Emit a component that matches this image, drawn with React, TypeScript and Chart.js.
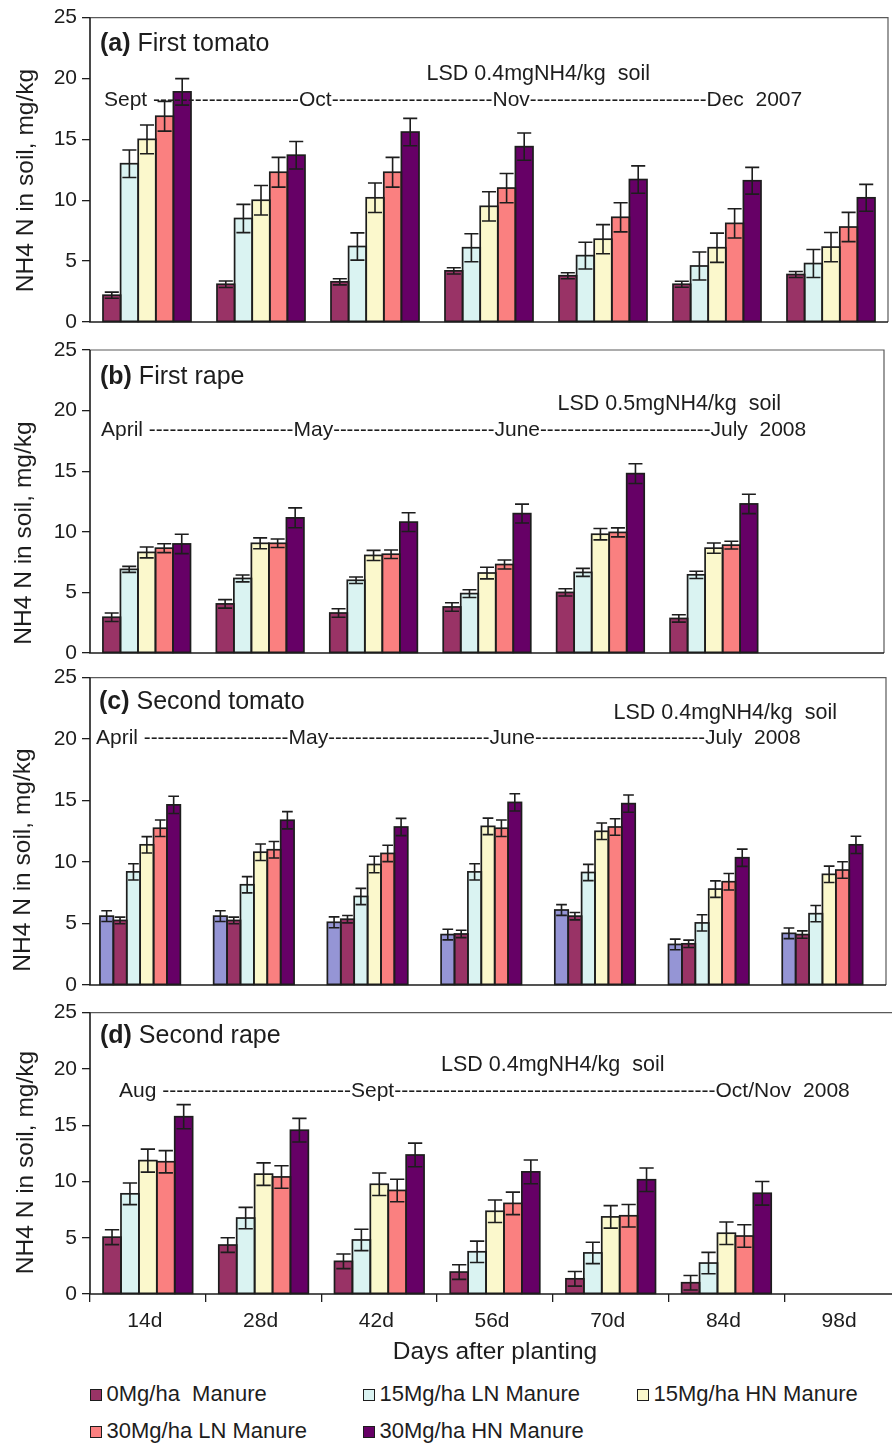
import React, { useEffect, useRef } from "react";
import { Chart, registerables } from "chart.js";

Chart.register(...registerables);

const FONT = "'Liberation Sans', Arial, Helvetica, sans-serif";
const INK = "#1d1d1d";
const FRAME = "#5a5a5a";

// ---------- categories, axis texts ----------
const dayLabels = ["14d", "28d", "42d", "56d", "70d", "84d", "98d"];
const xAxisTitle = "Days after planting";
const yAxisTitle = "NH4 N in soil, mg/kg";
const yMin = 0;
const yMax = 25;
const yStep = 5;

// ---------- series ----------
const seriesNames = [
  "0Mg/ha  Manure",
  "15Mg/ha LN Manure",
  "15Mg/ha HN Manure",
  "30Mg/ha LN Manure",
  "30Mg/ha HN Manure",
];
const seriesColors = ["#993366", "#DAF3F2", "#FBF8CC", "#FA8080", "#660066"];
const controlName = "Control";
const controlColor = "#9595D5";

// ---------- (a) First tomato ----------
const aM0 = [2.2, 3.1, 3.3, 4.2, 3.8, 3.1, 3.9];
const aLN15 = [13.0, 8.5, 6.2, 6.1, 5.45, 4.6, 4.8];
const aHN15 = [15.0, 10.0, 10.2, 9.5, 6.8, 6.1, 6.15];
const aLN30 = [16.9, 12.3, 12.3, 11.0, 8.6, 8.1, 7.8];
const aHN30 = [18.9, 13.7, 15.6, 14.4, 11.7, 11.6, 10.2];
const aM0Err = [0.25, 0.27, 0.25, 0.26, 0.25, 0.25, 0.25];
const aLN15Err = [1.13, 1.16, 1.12, 1.15, 1.1, 1.15, 1.15];
const aHN15Err = [1.18, 1.21, 1.21, 1.2, 1.2, 1.2, 1.2];
const aLN30Err = [1.22, 1.22, 1.22, 1.2, 1.2, 1.2, 1.2];
const aHN30Err = [1.09, 1.13, 1.12, 1.12, 1.12, 1.1, 1.1];
const aMonths = ["Sept ", "Oct", "Nov", "Dec  2007"];
const aLsd = "LSD 0.4mgNH4/kg  soil";

// ---------- (b) First rape ----------
const bM0 = [2.95, 4.05, 3.3, 3.8, 5.0, 2.85, null];
const bLN15 = [6.9, 6.15, 6.0, 4.9, 6.65, 6.45, null];
const bHN15 = [8.3, 9.05, 8.05, 6.6, 9.8, 8.65, null];
const bLN30 = [8.65, 9.05, 8.15, 7.3, 9.95, 8.9, null];
const bHN30 = [9.0, 11.15, 10.8, 11.5, 14.8, 12.3, null];
const bM0Err = [0.35, 0.35, 0.35, 0.35, 0.3, 0.3, null];
const bLN15Err = [0.25, 0.28, 0.27, 0.32, 0.33, 0.3, null];
const bHN15Err = [0.45, 0.45, 0.42, 0.48, 0.47, 0.42, null];
const bLN30Err = [0.37, 0.35, 0.35, 0.37, 0.37, 0.32, null];
const bHN30Err = [0.8, 0.82, 0.77, 0.78, 0.81, 0.8, null];
const bMonths = ["April ", "May", "June", "July  2008"];
const bLsd = "LSD 0.5mgNH4/kg  soil";

// ---------- (c) Second tomato ----------
const cCtrl = [5.6, 5.6, 5.1, 4.1, 6.1, 3.3, 4.2];
const cM0 = [5.25, 5.25, 5.35, 4.15, 5.6, 3.35, 4.1];
const cLN15 = [9.2, 8.15, 7.2, 9.2, 9.15, 5.05, 5.8];
const cHN15 = [11.4, 10.8, 9.8, 12.9, 12.5, 7.8, 9.0];
const cLN30 = [12.75, 11.0, 10.7, 12.75, 12.85, 8.4, 9.35];
const cHN30 = [14.65, 13.4, 12.85, 14.85, 14.75, 10.35, 11.4];
const cCtrlErr = [0.44, 0.44, 0.44, 0.43, 0.44, 0.43, 0.43];
const cM0Err = [0.27, 0.27, 0.3, 0.3, 0.3, 0.3, 0.3];
const cLN15Err = [0.66, 0.66, 0.66, 0.66, 0.66, 0.66, 0.66];
const cHN15Err = [0.67, 0.67, 0.67, 0.67, 0.67, 0.67, 0.67];
const cLN30Err = [0.67, 0.67, 0.67, 0.67, 0.67, 0.67, 0.67];
const cHN30Err = [0.7, 0.7, 0.7, 0.7, 0.7, 0.7, 0.7];
const cEmptySlot = [null, null, null, null, null, null, null];
const cMonths = ["April ", "May", "June", "July  2008"];
const cLsd = "LSD 0.4mgNH4/kg  soil";

// ---------- (d) Second rape ----------
const dM0 = [5.05, 4.35, 2.9, 1.95, 1.35, 1.0, null];
const dLN15 = [8.9, 6.75, 4.8, 3.75, 3.65, 2.75, null];
const dHN15 = [11.85, 10.65, 9.75, 7.35, 6.85, 5.4, null];
const dLN30 = [11.75, 10.4, 9.2, 8.05, 6.95, 5.15, null];
const dHN30 = [15.75, 14.55, 12.35, 10.85, 10.15, 8.95, null];
const dM0Err = [0.66, 0.65, 0.65, 0.65, 0.65, 0.65, null];
const dLN15Err = [0.96, 0.95, 0.95, 0.95, 0.95, 0.95, null];
const dHN15Err = [1.02, 1.0, 1.0, 1.0, 1.0, 1.0, null];
const dLN30Err = [0.99, 1.0, 1.0, 1.0, 1.0, 1.0, null];
const dHN30Err = [1.07, 1.05, 1.05, 1.05, 1.05, 1.05, null];
const dMonths = ["Aug ", "Sept", "Oct/Nov  2008"];
const dLsd = "LSD 0.4mgNH4/kg  soil";

type SeriesSpec = {
  label: string;
  color: string;
  values: (number | null)[];
  errors: (number | null)[] | null;
};

const mainSeries = (vals: (number | null)[][], errs: (number | null)[][]): SeriesSpec[] =>
  vals.map((v, i) => ({ label: seriesNames[i], color: seriesColors[i], values: v, errors: errs[i] }));

type PanelSpec = {
  key: string;
  top: number;
  height: number;
  width: number;
  pad: { top: number; bottom: number; right: number };
  series: SeriesSpec[];
  catPct: number;
  tag: string;
  title: string;
  titleX: number;
  titleBase: number;
  lsd: string;
  lsdX: number;
  lsdBase: number;
  months: string[];
  monthX: number[];
  monthBase: number;
  yTitleX: number;
  yTitleY: number;
  xAxis: boolean;
};

const panels: PanelSpec[] = [
  {
    key: "a",
    top: 0,
    height: 342,
    width: 892,
    pad: { top: 16, bottom: 20, right: 4 },
    series: mainSeries([aM0, aLN15, aHN15, aLN30, aHN30], [aM0Err, aLN15Err, aHN15Err, aLN30Err, aHN30Err]),
    catPct: 0.772,
    tag: "(a)",
    title: " First tomato",
    titleX: 100,
    titleBase: 51,
    lsd: aLsd,
    lsdX: 426.5,
    lsdBase: 80,
    months: aMonths,
    monthX: [104, 299, 492.5, 706.5],
    monthBase: 106,
    yTitleX: 32.5,
    yTitleY: 180.5,
    xAxis: false,
  },
  {
    key: "b",
    top: 330,
    height: 343,
    width: 892,
    pad: { top: 20, bottom: 20, right: 8 },
    series: mainSeries([bM0, bLN15, bHN15, bLN30, bHN30], [bM0Err, bLN15Err, bHN15Err, bLN30Err, bHN30Err]),
    catPct: 0.772,
    tag: "(b)",
    title: " First rape",
    titleX: 100,
    titleBase: 384,
    lsd: bLsd,
    lsdX: 557.5,
    lsdBase: 410,
    months: bMonths,
    monthX: [101, 293.5, 494.5, 710.5],
    monthBase: 436,
    yTitleX: 31,
    yTitleY: 533,
    xAxis: false,
  },
  {
    key: "c",
    top: 660,
    height: 345,
    width: 892,
    pad: { top: 15, bottom: 20, right: 6 },
    series: [
      { label: controlName, color: controlColor, values: cCtrl, errors: cCtrlErr },
      ...mainSeries([cM0, cLN15, cHN15, cLN30, cHN30], [cM0Err, cLN15Err, cHN15Err, cLN30Err, cHN30Err]),
      { label: "", color: "rgba(0,0,0,0)", values: cEmptySlot, errors: null },
    ],
    catPct: 0.825,
    tag: "(c)",
    title: " Second tomato",
    titleX: 99,
    titleBase: 709,
    lsd: cLsd,
    lsdX: 613.5,
    lsdBase: 719,
    months: cMonths,
    monthX: [96, 288.5, 489.5, 705],
    monthBase: 744,
    yTitleX: 29.5,
    yTitleY: 860,
    xAxis: false,
  },
  {
    key: "d",
    top: 995,
    height: 375,
    width: 910,
    pad: { top: 14, bottom: 0, right: 10 },
    series: mainSeries([dM0, dLN15, dHN15, dLN30, dHN30], [dM0Err, dLN15Err, dHN15Err, dLN30Err, dHN30Err]),
    catPct: 0.774,
    tag: "(d)",
    title: " Second rape",
    titleX: 100,
    titleBase: 1043,
    lsd: dLsd,
    lsdX: 441,
    lsdBase: 1071,
    months: dMonths,
    monthX: [119, 351, 715.5],
    monthBase: 1097,
    yTitleX: 33,
    yTitleY: 1162.5,
    xAxis: true,
  },
];

function decorPlugin(p: PanelSpec) {
  return {
    id: "decor_" + p.key,
    afterDatasetsDraw(chart: any) {
      const ctx = chart.ctx as CanvasRenderingContext2D;
      const area = chart.chartArea;
      const yScale = chart.scales.y;
      ctx.save();
      // bar outlines (centered on the bar edges)
      chart.data.datasets.forEach((ds: any, i: number) => {
        const meta = chart.getDatasetMeta(i);
        meta.data.forEach((el: any, j: number) => {
          const v = ds.data[j];
          if (v == null) return;
          const { x, y, base, width } = el.getProps(["x", "y", "base", "width"], true);
          ctx.strokeStyle = INK;
          ctx.lineWidth = 1.7;
          ctx.strokeRect(x - width / 2, y, width, base - y);
        });
      });
      // error bars
      chart.data.datasets.forEach((ds: any, i: number) => {
        const errs = ds.errors;
        if (!errs) return;
        const meta = chart.getDatasetMeta(i);
        meta.data.forEach((el: any, j: number) => {
          const v = ds.data[j];
          const e = errs[j];
          if (v == null || e == null) return;
          const { x, width } = el.getProps(["x", "width"], true);
          const yt = yScale.getPixelForValue(v + e);
          const yb = yScale.getPixelForValue(v - e);
          const half = Math.min(7.5, width * 0.4);
          ctx.strokeStyle = INK;
          ctx.lineWidth = 1.6;
          ctx.beginPath();
          ctx.moveTo(x, yt);
          ctx.lineTo(x, yb);
          ctx.moveTo(x - half, yt);
          ctx.lineTo(x + half, yt);
          ctx.moveTo(x - half, yb);
          ctx.lineTo(x + half, yb);
          ctx.stroke();
        });
      });
      // frame
      ctx.strokeStyle = FRAME;
      ctx.lineWidth = 1.2;
      ctx.beginPath();
      ctx.moveTo(area.left, area.top);
      ctx.lineTo(area.right, area.top);
      ctx.lineTo(area.right, area.bottom);
      ctx.stroke();
      ctx.strokeStyle = INK;
      ctx.lineWidth = 1.6;
      ctx.beginPath();
      ctx.moveTo(area.left, area.top);
      ctx.lineTo(area.left, area.bottom);
      ctx.lineTo(area.right, area.bottom);
      ctx.stroke();
      ctx.restore();
    },
    afterDraw(chart: any) {
      const ctx = chart.ctx as CanvasRenderingContext2D;
      const oy = p.top;
      ctx.save();
      ctx.fillStyle = INK;
      ctx.textBaseline = "alphabetic";
      ctx.textAlign = "left";
      // panel title
      ctx.font = `bold 25px ${FONT}`;
      ctx.fillText(p.tag, p.titleX, p.titleBase - oy);
      const tw = ctx.measureText(p.tag).width;
      ctx.font = `25px ${FONT}`;
      ctx.fillText(p.title, p.titleX + tw, p.titleBase - oy);
      // LSD
      ctx.font = `21.5px ${FONT}`;
      ctx.fillText(p.lsd, p.lsdX, p.lsdBase - oy);
      // month row
      ctx.font = `21px ${FONT}`;
      const hw = ctx.measureText("-").width;
      p.months.forEach((m, k) => {
        const mx = p.monthX[k];
        ctx.fillText(m, mx, p.monthBase - oy);
        if (k < p.months.length - 1) {
          const start = mx + ctx.measureText(m).width;
          const gap = p.monthX[k + 1] - start;
          const n = Math.ceil(gap / hw);
          ctx.fillText("-".repeat(n), start, p.monthBase - oy, gap);
        }
      });
      // y axis title
      ctx.save();
      ctx.translate(p.yTitleX, p.yTitleY - oy);
      ctx.rotate(-Math.PI / 2);
      ctx.textAlign = "center";
      ctx.font = `24.5px ${FONT}`;
      ctx.fillText(yAxisTitle, 0, 0);
      ctx.restore();
      ctx.restore();
    },
  };
}

function buildConfig(p: PanelSpec): any {
  const datasets = p.series.map((s) => ({
    label: s.label,
    data: s.values,
    errors: s.errors,
    backgroundColor: s.color,
    borderWidth: 0,
    barPercentage: 1,
    categoryPercentage: p.catPct,
  }));
  return {
    type: "bar",
    data: { labels: dayLabels, datasets },
    options: {
      responsive: false,
      animation: false,
      devicePixelRatio: 1,
      layout: {
        autoPadding: false,
        padding: { left: 0, top: p.pad.top, right: p.pad.right, bottom: p.pad.bottom },
      },
      plugins: { legend: { display: false }, tooltip: { enabled: false } },
      scales: {
        x: {
          type: "category",
          display: p.xAxis,
          offset: true,
          grid: {
            display: true,
            offset: true,
            drawOnChartArea: false,
            drawTicks: true,
            tickLength: 8,
            color: INK,
            lineWidth: 1.3,
          },
          border: { display: false },
          ticks: {
            font: { family: FONT, size: 21 },
            color: INK,
            padding: 7,
            labelOffset: -3,
            maxRotation: 0,
            autoSkip: false,
          },
          title: {
            display: true,
            text: xAxisTitle,
            font: { family: FONT, size: 24.5 },
            color: INK,
            padding: { top: 2, bottom: 3.5 },
          },
          afterFit: (s: any) => {
            s.height = p.xAxis ? 76 : 0;
          },
        },
        y: {
          min: yMin,
          max: yMax,
          ticks: {
            stepSize: yStep,
            font: { family: FONT, size: 21 },
            color: INK,
            padding: 5,
          },
          grid: {
            drawOnChartArea: false,
            drawTicks: true,
            tickLength: 8,
            color: INK,
            lineWidth: 1.3,
          },
          border: { display: false },
          afterFit: (s: any) => {
            s.width = 90;
          },
        },
      },
    },
    plugins: [decorPlugin(p)],
  };
}

function PanelChart({ p }: { p: PanelSpec }) {
  const ref = useRef<HTMLCanvasElement>(null);
  useEffect(() => {
    const canvas = ref.current;
    if (!canvas) return;
    const chart = new Chart(canvas, buildConfig(p));
    return () => chart.destroy();
  }, [p]);
  return (
    <canvas
      ref={ref}
      width={p.width}
      height={p.height}
      style={{ position: "absolute", left: 0, top: p.top, width: p.width, height: p.height }}
    />
  );
}

const legendColX = [90, 363, 637];
const legendBoxTop = [1388.5, 1425.5];
const legendTextTop = [1381, 1417.7];

function Legend() {
  return (
    <>
      {seriesNames.map((name, i) => {
        const col = i % 3;
        const row = Math.floor(i / 3);
        return (
          <React.Fragment key={name}>
            <div
              style={{
                position: "absolute",
                left: legendColX[col],
                top: legendBoxTop[row],
                width: 12,
                height: 12,
                boxSizing: "border-box",
                border: `1.6px solid ${INK}`,
                background: seriesColors[i],
              }}
            />
            <div
              style={{
                position: "absolute",
                left: legendColX[col] + 16.5,
                top: legendTextTop[row],
                fontFamily: FONT,
                fontSize: 22,
                lineHeight: "26px",
                color: INK,
                whiteSpace: "pre",
              }}
            >
              {name}
            </div>
          </React.Fragment>
        );
      })}
    </>
  );
}

export default function App() {
  return (
    <div
      style={{
        position: "absolute",
        left: 0,
        top: 0,
        width: 892,
        height: 1444,
        overflow: "hidden",
        background: "#ffffff",
      }}
    >
      {panels.map((p) => (
        <PanelChart key={p.key} p={p} />
      ))}
      <Legend />
    </div>
  );
}
